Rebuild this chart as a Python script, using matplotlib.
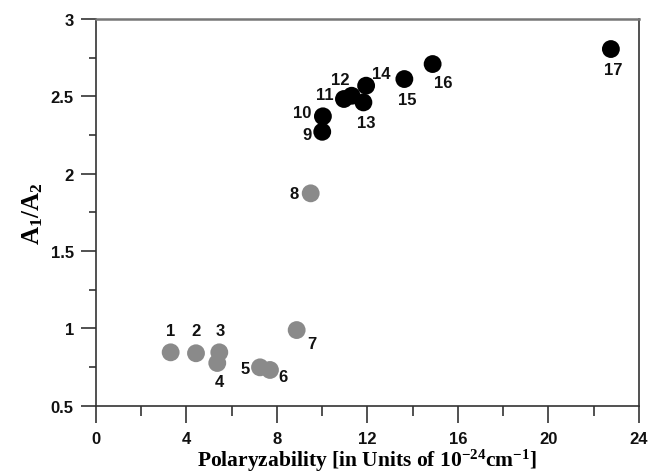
import matplotlib
matplotlib.use('Agg')
import matplotlib.pyplot as plt
from matplotlib.ticker import MultipleLocator

# polarizability (x) and A1/A2 (y)
etiquetas = ['1', '2', '3', '4', '5', '6', '7', '8',
             '9', '10', '11', '12', '13', '14', '15', '16', '17']
polarizabilidade = [3.30, 4.42, 5.45, 5.36, 7.25, 7.69, 8.87, 9.49,
                    10.00, 10.03, 10.96, 11.30, 11.82, 11.94, 13.63, 14.88, 22.76]
razao_a1_a2 = [0.845, 0.839, 0.845, 0.776, 0.748, 0.731, 0.989, 1.873,
               2.271, 2.371, 2.483, 2.504, 2.461, 2.569, 2.612, 2.709, 2.806]
grupo = ['cinza'] * 8 + ['preto'] * 9

# label offsets in pixels (dx, dy)
deslocamentos = [(0, 22), (0, 23), (1, 22), (2, -18), (-15, -1), (13, -7), (15, -13), (-17, 0),
                 (-15, -3), (-21, 4), (-19, 4), (-11, 16), (3, -20), (15, 12), (3, -20), (11, -18),
                 (2, -20)]

cores = {'cinza': '#8a8a8a', 'preto': '#000000'}

fig = plt.figure(figsize=(6.5, 4.77), dpi=100)
ax = fig.add_axes([0.1477, 0.1474, 0.8353, 0.8106])

for g in ['cinza', 'preto']:
    xs = [x for x, gg in zip(polarizabilidade, grupo) if gg == g]
    ys = [y for y, gg in zip(razao_a1_a2, grupo) if gg == g]
    ax.scatter(xs, ys, s=165, color=cores[g], edgecolors='none', zorder=3)

for rotulo, x, y, (dx, dy) in zip(etiquetas, polarizabilidade, razao_a1_a2, deslocamentos):
    ax.annotate(rotulo, (x, y), xytext=(dx, dy), textcoords='offset pixels',
                ha='center', va='center', fontsize=12, fontweight='bold',
                family='Liberation Sans', color='#111111')

ax.set_xlim(0, 24)
ax.set_ylim(0.5, 3)
ax.xaxis.set_major_locator(MultipleLocator(4))
ax.xaxis.set_minor_locator(MultipleLocator(2))
ax.yaxis.set_major_locator(MultipleLocator(0.5))
ax.yaxis.set_minor_locator(MultipleLocator(0.25))
ax.set_yticks([0.5, 1, 1.5, 2, 2.5, 3])
ax.set_yticklabels(['0.5', '1', '1.5', '2', '2.5', '3'])

ax.tick_params(axis='x', which='major', direction='out', length=12.5, width=1.1, pad=6, colors='#222222')
ax.tick_params(axis='x', which='minor', direction='out', length=7, width=1.1, colors='#222222')
ax.tick_params(axis='y', which='major', direction='out', length=11, width=1.1, pad=5, colors='#222222')
ax.tick_params(axis='y', which='minor', direction='out', length=5, width=1.1, colors='#222222')
for lab in ax.get_xticklabels() + ax.get_yticklabels():
    lab.set_fontfamily('Liberation Sans')
    lab.set_fontweight('bold')
    lab.set_fontsize(12)
    lab.set_color('#111111')

for lado in ['left', 'bottom', 'right']:
    ax.spines[lado].set_linewidth(1.2)
    ax.spines[lado].set_color('#333333')
ax.spines['top'].set_linewidth(1.8)
ax.spines['top'].set_color('#777777')

plt.rcParams['mathtext.default'] = 'regular'
ax.set_xlabel('Polaryzability [in Units of 10$^{-24}$cm$^{-1}$]', family='Liberation Serif',
              fontweight='bold', fontsize=15.5, labelpad=0)
ax.set_ylabel('A$_1$/A$_2$', family='Liberation Serif', fontweight='bold', fontsize=18, labelpad=4)

fig.savefig('out.png', dpi=100)
